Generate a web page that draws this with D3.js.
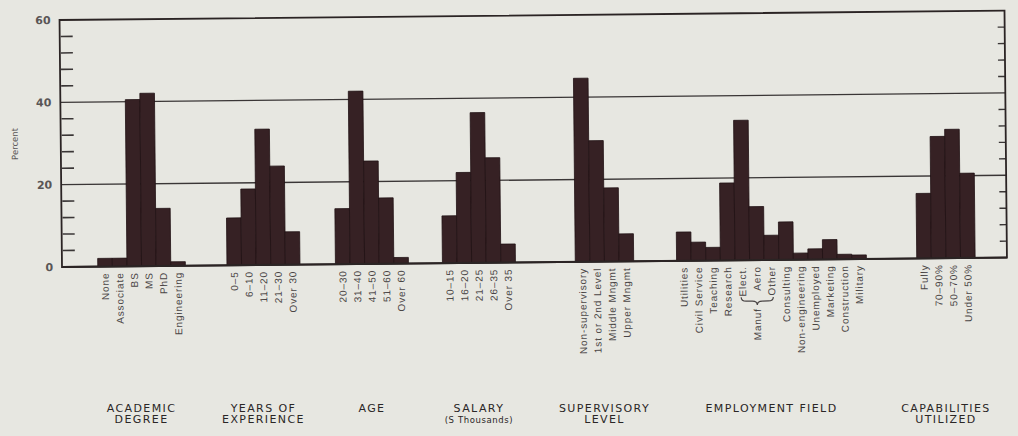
<!DOCTYPE html>
<html>
<head>
<meta charset="utf-8">
<script src="https://cdn.jsdelivr.net/npm/d3@7"></script>
<style>
	body { margin: 0; background: #e7e7e1; }
	svg { display: block; }
</style>
</head>
<body>
<svg class="chart" width="1018" height="436"></svg>
<script>
////////////////////////////////////////////////////////////
//// Data //////////////////////////////////////////////////
////////////////////////////////////////////////////////////
const degreeLabels = ["None", "Associate", "BS", "MS", "PhD", "Engineering"];
const degreeValues = [2, 2, 40.5, 42, 14, 1];

const experienceLabels = ["0–5", "6–10", "11–20", "21–30", "Over 30"];
const experienceValues = [11.5, 18.5, 33, 24, 8];

const ageLabels = ["20–30", "31–40", "41–50", "51–60", "Over 60"];
const ageValues = [13.5, 42, 25, 16, 1.5];

const salaryLabels = ["10–15", "16–20", "21–25", "26–35", "Over 35"];
const salaryValues = [11.5, 22, 36.5, 25.5, 4.5];

const supervisoryLabels = ["Non-supervisory", "1st or 2nd Level", "Middle Mngmt", "Upper Mngmt"];
const supervisoryValues = [44.6, 29.4, 17.9, 6.7];

const fieldLabels = ["Utilities", "Civil Service", "Teaching", "Research", "Elect.", "Aero", "Other",
	"Consulting", "Non-engineering", "Unemployed", "Marketing", "Construction", "Military"];
const fieldValues = [7, 4.5, 3.2, 18.8, 34, 13, 6, 9.2, 1.6, 2.6, 4.8, 1.2, 1];

const capabilityLabels = ["Fully", "70–90%", "50–70%", "Under 50%"];
const capabilityValues = [15.8, 29.6, 31.3, 20.6];

const groupTitles = [
	["ACADEMIC", "DEGREE"],
	["YEARS OF", "EXPERIENCE"],
	["AGE"],
	["SALARY", "(S Thousands)"],
	["SUPERVISORY", "LEVEL"],
	["EMPLOYMENT FIELD"],
	["CAPABILITIES", "UTILIZED"]
];

const yTicks = [0, 20, 40, 60];
const gridValues = [20, 40];

////////////////////////////////////////////////////////////
//// Setup /////////////////////////////////////////////////
////////////////////////////////////////////////////////////
const svg = d3.select(".chart");
const margin = { top: 20, right: 11, bottom: 169, left: 62 };
const width = 1018 - margin.left - margin.right;
const height = 436 - margin.top - margin.bottom;
const tilt = -0.57; // the printed page sits slightly askew

// slot units: every bar is one slot wide, groups start at fixed slots
const totalSlots = 64.73;
const groupStart = [2.45, 11.3, 18.73, 26.06, 35.16, 42.1, 58.55];

const groups = [
	{ labels: degreeLabels, values: degreeValues },
	{ labels: experienceLabels, values: experienceValues },
	{ labels: ageLabels, values: ageValues },
	{ labels: salaryLabels, values: salaryValues },
	{ labels: supervisoryLabels, values: supervisoryValues },
	{ labels: fieldLabels, values: fieldValues },
	{ labels: capabilityLabels, values: capabilityValues }
].map((d, i) => ({ ...d, title: groupTitles[i], start: groupStart[i] }));

const bars = groups.flatMap((grp, gi) =>
	grp.values.map((v, i) => ({ group: gi, label: grp.labels[i], value: v, slot: grp.start + i }))
);

const x = d3.scaleLinear().domain([0, totalSlots]).range([0, width]);
const y = d3.scaleLinear().domain([0, 60]).range([height, 0]);

const ink = "#2b2424";
const barFill = "#362124";
const labelInk = "#4a4545";

const g = svg
	.append("g")
	.attr("transform", `translate(${margin.left},${margin.top}) rotate(${tilt},0,${height})`);

////////////////////////////////////////////////////////////
//// Frame /////////////////////////////////////////////////
////////////////////////////////////////////////////////////
g.append("g")
	.selectAll("line")
	.data(gridValues)
	.join("line")
	.attr("x1", 0)
	.attr("x2", width)
	.attr("y1", d => y(d))
	.attr("y2", d => y(d))
	.attr("stroke", "#3a3636")
	.attr("stroke-width", 1.3);

// minor ticks every 4 percent
const minor = d3.range(4, 60, 4).filter(d => d % 20);
g.append("g")
	.selectAll("line")
	.data(minor)
	.join("line")
	.attr("x1", 1)
	.attr("x2", 13)
	.attr("y1", d => y(d))
	.attr("y2", d => y(d))
	.attr("stroke", "#3a3636")
	.attr("stroke-width", 1.6);

g.append("g")
	.selectAll("line")
	.data(minor)
	.join("line")
	.attr("x1", width - 7)
	.attr("x2", width)
	.attr("y1", d => y(d))
	.attr("y2", d => y(d))
	.attr("stroke", "#3a3636")
	.attr("stroke-width", 1.4);

g.append("rect")
	.attr("x", 0)
	.attr("y", y(60))
	.attr("width", width)
	.attr("height", y(0) - y(60))
	.attr("fill", "none")
	.attr("stroke", ink)
	.attr("stroke-width", 1.8);

const yAxis = g
	.append("g")
	.call(d3.axisLeft(y).tickValues(yTicks).tickSize(0).tickPadding(9));
yAxis.select(".domain").remove();
yAxis
	.selectAll("text")
	.attr("font-family", "DejaVu Sans")
	.attr("font-size", 11)
	.attr("font-weight", "bold")
	.attr("fill", "#5a5656");

g.append("text")
	.attr("transform", `translate(${-43},${y(30)}) rotate(-90)`)
	.attr("text-anchor", "middle")
	.attr("font-family", "DejaVu Sans")
	.attr("font-size", 8.5)
	.attr("fill", "#5a5656")
	.text("Percent");

////////////////////////////////////////////////////////////
//// Bars //////////////////////////////////////////////////
////////////////////////////////////////////////////////////
g.append("g")
	.selectAll("rect")
	.data(bars)
	.join("rect")
	.attr("x", d => x(d.slot))
	.attr("y", d => y(d.value))
	.attr("width", x(1) - x(0))
	.attr("height", d => y(0) - y(d.value))
	.attr("fill", barFill)
	.attr("stroke", "#201214")
	.attr("stroke-width", 0.8);

// heavier baseline under the bars
g.append("line")
	.attr("x1", 0)
	.attr("x2", width)
	.attr("y1", y(0))
	.attr("y2", y(0))
	.attr("stroke", ink)
	.attr("stroke-width", 2);

////////////////////////////////////////////////////////////
//// Labels ////////////////////////////////////////////////
////////////////////////////////////////////////////////////
g.append("g")
	.selectAll("text")
	.data(bars)
	.join("text")
	.attr("transform", d => `translate(${x(d.slot + 0.5)},${y(0) + 6}) rotate(-90)`)
	.attr("text-anchor", "end")
	.attr("dy", "0.35em")
	.attr("font-family", "Liberation Sans")
	.attr("font-size", 10)
	.attr("letter-spacing", 0.9)
	.attr("fill", labelInk)
	.text(d => d.label);

// "Manuf" brace under Elect. / Aero / Other
const manuf = groups[5].start + fieldLabels.indexOf("Aero") + 0.5;
const braceL = x(manuf - 1.1);
const braceR = x(manuf + 1.1);
const braceM = x(manuf);
const braceY = y(0) + 37;
const bh = 8;
const brace = d3.path();
brace.moveTo(braceL, braceY);
brace.quadraticCurveTo(braceL, braceY + bh / 2, braceL + 5, braceY + bh / 2);
brace.lineTo(braceM - 5, braceY + bh / 2);
brace.quadraticCurveTo(braceM, braceY + bh / 2, braceM, braceY + bh);
brace.quadraticCurveTo(braceM, braceY + bh / 2, braceM + 5, braceY + bh / 2);
brace.lineTo(braceR - 5, braceY + bh / 2);
brace.quadraticCurveTo(braceR, braceY + bh / 2, braceR, braceY);
g.append("path")
	.attr("d", brace.toString())
	.attr("fill", "none")
	.attr("stroke", labelInk)
	.attr("stroke-width", 1.2);

g.append("text")
	.attr("transform", `translate(${braceM},${braceY + bh + 3}) rotate(-90)`)
	.attr("text-anchor", "end")
	.attr("dy", "0.35em")
	.attr("font-family", "Liberation Sans")
	.attr("font-size", 10)
	.attr("letter-spacing", 0.9)
	.attr("fill", labelInk)
	.text("Manuf");

// group titles sit level on the page, below the tilted chart
const titles = svg
	.append("g")
	.attr("transform", `translate(${margin.left},0)`)
	.selectAll("text")
	.data(groups)
	.join("text")
	.attr("text-anchor", "middle")
	.attr("font-family", "DejaVu Sans")
	.attr("fill", "#2a2626");

titles
	.selectAll("tspan")
	.data(d => d.title.map((t, i) => ({ t, i, cx: x(d.start + d.values.length / 2) })))
	.join("tspan")
	.attr("x", d => d.cx)
	.attr("y", d => 412 + d.i * 11)
	.attr("font-size", d => (d.t.startsWith("(") ? 8.5 : 11))
	.attr("letter-spacing", d => (d.t.startsWith("(") ? 0.6 : 1.4))
	.text(d => d.t);
</script>
</body>
</html>
